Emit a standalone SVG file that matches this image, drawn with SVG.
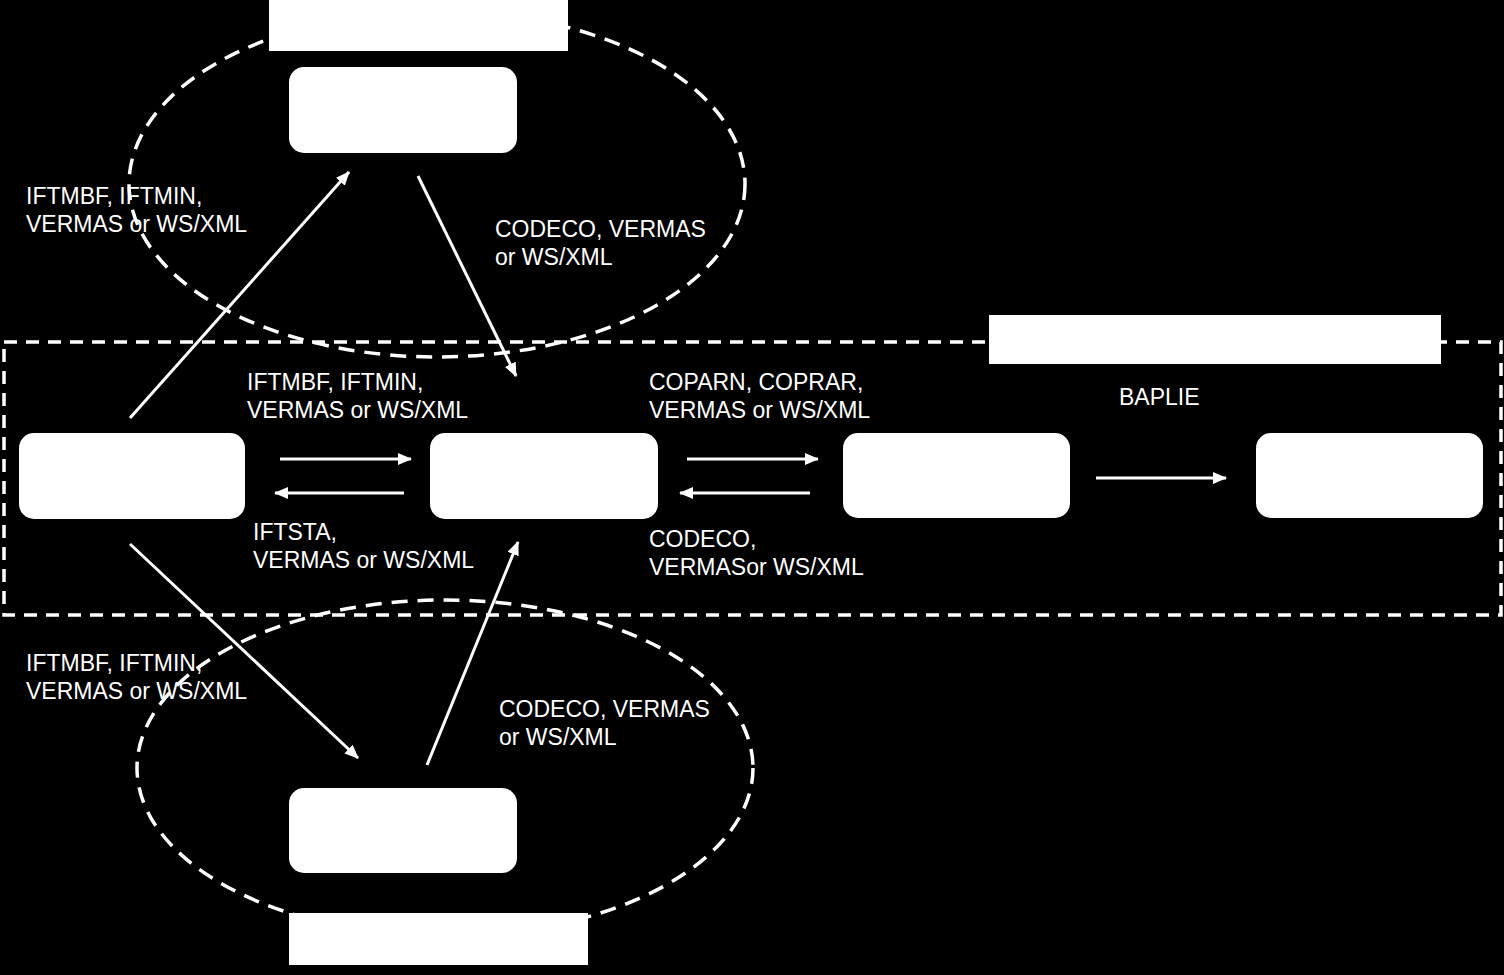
<svg xmlns="http://www.w3.org/2000/svg" width="1504" height="975" viewBox="0 0 1504 975">
<defs>
<marker id="ah" markerUnits="userSpaceOnUse" markerWidth="14" markerHeight="12" refX="13" refY="6" orient="auto">
<path d="M0,0 L14,6 L0,12 z" fill="#fff"/>
</marker>
<style>
.node{fill:#fff;}
.lbl{fill:#fff;}
.dash-ell{fill:none;stroke:#fff;stroke-width:3.5;stroke-dasharray:16 10;}
.dash-rect{fill:none;stroke:#fff;stroke-width:3.5;stroke-dasharray:13 9;}
.conn{stroke:#fff;stroke-width:3;fill:none;marker-end:url(#ah);}
text{font-family:"Liberation Sans",Arial,sans-serif;font-size:23px;fill:#fff;}
</style>
</defs>
<rect x="0" y="0" width="1504" height="975" fill="#000"/>

<g id="groups">
<ellipse id="top-ellipse" class="dash-ell" cx="437" cy="184" rx="308" ry="173"/>
<ellipse id="bottom-ellipse" class="dash-ell" cx="445" cy="768" rx="308" ry="168"/>
<rect id="main-area" class="dash-rect" x="4" y="342" width="1497" height="273"/>
</g>

<g id="label-top"><rect class="lbl" x="269" y="0" width="299" height="51"/></g>
<g id="label-main"><rect class="lbl" x="989" y="315" width="452" height="49"/></g>
<g id="label-bottom"><rect class="lbl" x="289" y="913" width="299" height="52"/></g>

<g id="node-top"><rect class="node" x="289" y="67" width="228" height="86" rx="15"/></g>
<g id="node-left"><rect class="node" x="19" y="433" width="226" height="86" rx="15"/></g>
<g id="node-center"><rect class="node" x="430" y="433" width="228" height="86" rx="15"/></g>
<g id="node-right1"><rect class="node" x="843" y="433" width="227" height="85" rx="15"/></g>
<g id="node-right2"><rect class="node" x="1256" y="433" width="227" height="85" rx="15"/></g>
<g id="node-bottom"><rect class="node" x="289" y="788" width="228" height="85" rx="15"/></g>

<g id="connectors">
<line class="conn" x1="130" y1="418" x2="349" y2="172"/>
<line class="conn" x1="418" y1="176" x2="516" y2="376"/>
<line class="conn" x1="280" y1="459" x2="411" y2="459"/>
<line class="conn" x1="404" y1="493" x2="275" y2="493"/>
<line class="conn" x1="687" y1="459" x2="818" y2="459"/>
<line class="conn" x1="810" y1="493" x2="680" y2="493"/>
<line class="conn" x1="1096" y1="478" x2="1226" y2="478"/>
<line class="conn" x1="130" y1="544" x2="358" y2="758"/>
<line class="conn" x1="427" y1="765" x2="518" y2="542"/>
</g>

<g id="connector-labels">
<text x="26" y="204">IFTMBF, IFTMIN,</text>
<text x="26" y="232">VERMAS or WS/XML</text>
<text x="495" y="237">CODECO, VERMAS</text>
<text x="495" y="265">or WS/XML</text>
<text x="247" y="390">IFTMBF, IFTMIN,</text>
<text x="247" y="418">VERMAS or WS/XML</text>
<text x="649" y="390">COPARN, COPRAR,</text>
<text x="649" y="418">VERMAS or WS/XML</text>
<text x="1119" y="405">BAPLIE</text>
<text x="253" y="540">IFTSTA,</text>
<text x="253" y="568">VERMAS or WS/XML</text>
<text x="649" y="547">CODECO,</text>
<text x="649" y="575">VERMASor WS/XML</text>
<text x="26" y="671">IFTMBF, IFTMIN,</text>
<text x="26" y="699">VERMAS or WS/XML</text>
<text x="499" y="717">CODECO, VERMAS</text>
<text x="499" y="745">or WS/XML</text>
</g>
</svg>
